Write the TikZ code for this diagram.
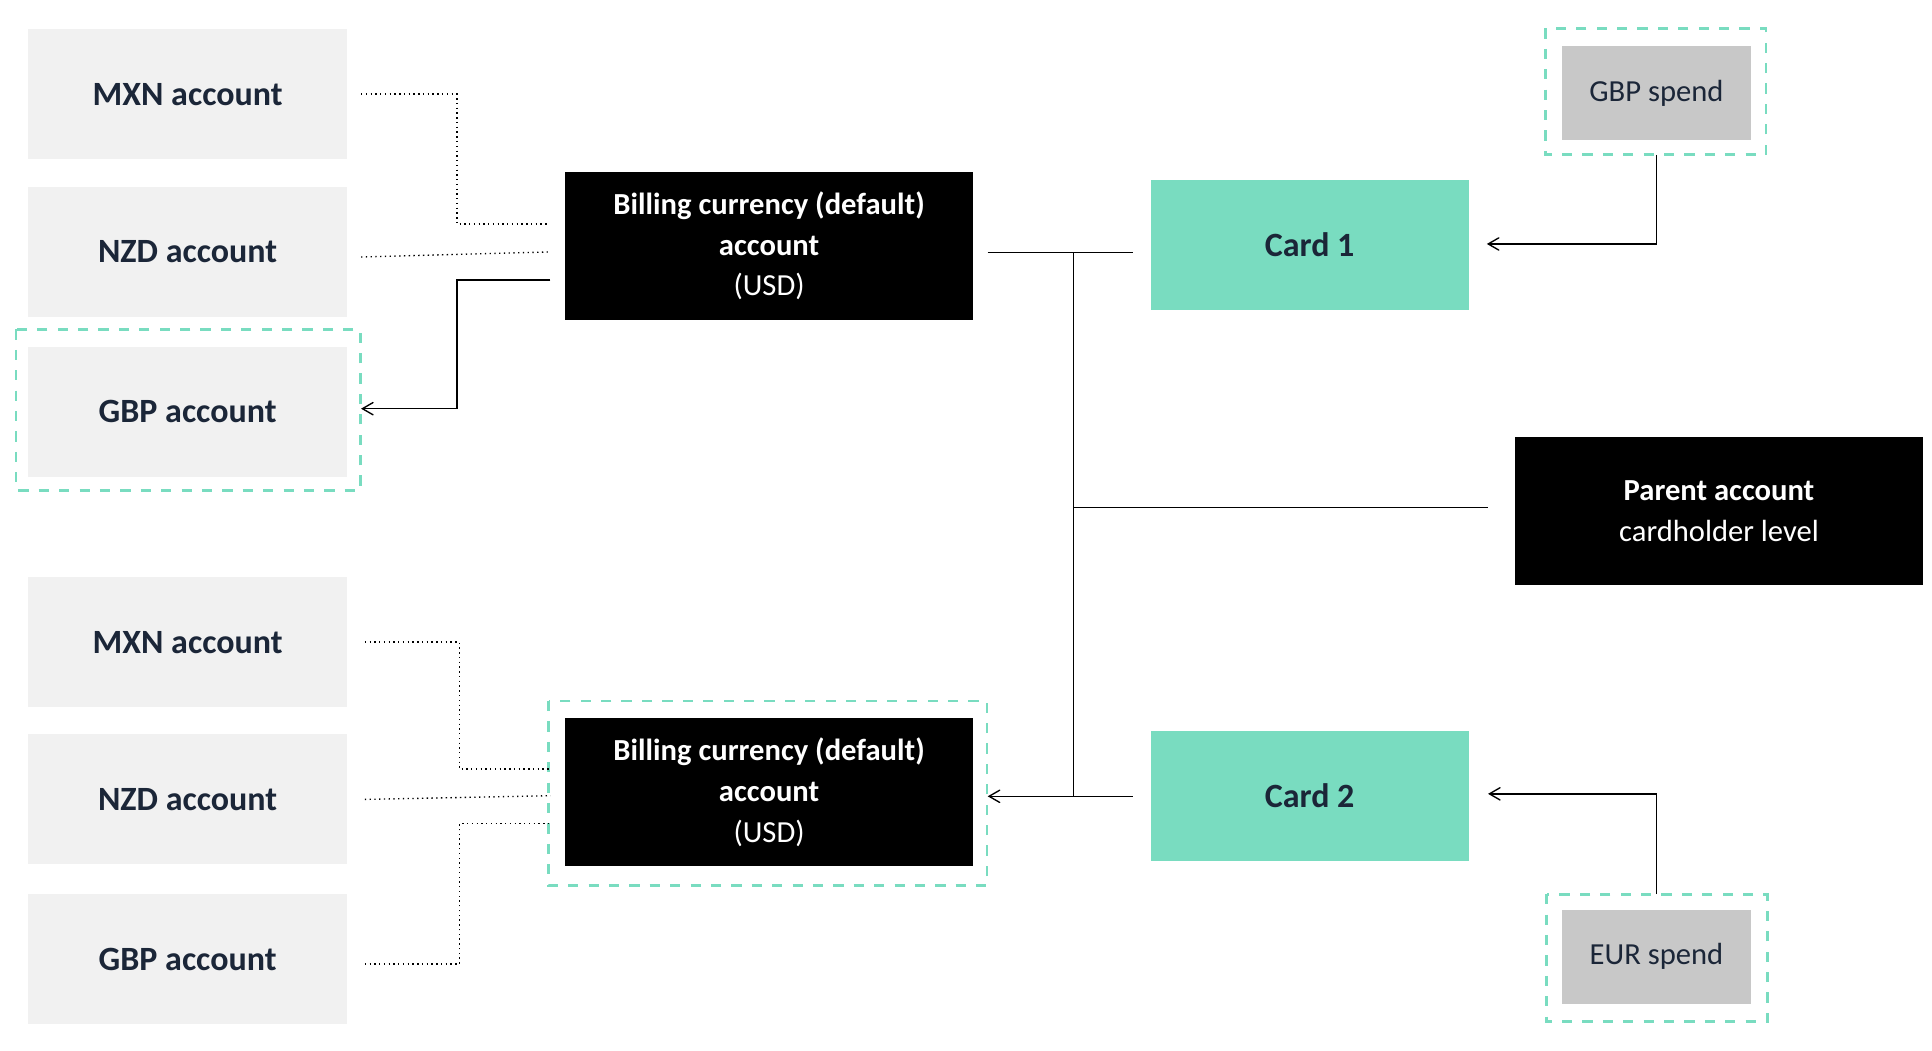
\documentclass[tikz,border=0pt]{standalone}
\usepackage{fontspec}
\setmainfont{Carlito}
\usetikzlibrary{arrows,positioning,calc}
\definecolor{accgray}{HTML}{F1F1F1}
\definecolor{cardgreen}{HTML}{79DCC0}
\definecolor{spendgray}{HTML}{C8C8C8}
\definecolor{txtdark}{HTML}{1B2638}
\tikzstyle{acc} = [fill=accgray, text=txtdark, font=\bfseries, minimum width=257*0.0128cm, minimum height=105*0.0128cm]
\tikzstyle{bill} = [fill=black, text=white, minimum width=330*0.0128cm, minimum height=119*0.0128cm, align=center]
\tikzstyle{card} = [fill=cardgreen, text=txtdark, font=\bfseries, minimum width=257*0.0128cm, minimum height=105*0.0128cm]
\tikzstyle{spend} = [fill=spendgray, text=txtdark, minimum width=153*0.0128cm, minimum height=76*0.0128cm]
\tikzstyle{frame} = [draw=cardgreen, dashed, thick]
\tikzstyle{dot} = [densely dotted, thin]
\tikzstyle{arrow} = [thin,->,>=angle 60]

\begin{document}
\begin{tikzpicture}[x=0.0128cm, y=-0.0128cm, every node/.style={inner sep=0pt, font=\fontsize{9}{12}\selectfont}]
    \useasboundingbox (0,0) rectangle (1560,848);

        % Frames
        \draw[frame] (13,266) rectangle (291,396);
        \draw[frame] (443,566) rectangle (797,715);
        \draw[frame] (1248,23) rectangle (1426,125);
        \draw[frame] (1249,722) rectangle (1427,825);

        % Accounts, upper group
        \node[acc] (MXN1) at (151.5,76) {MXN account};
        \node[acc] (NZD1) at (151.5,203.5) {NZD account};
        \node[acc] (GBP1) at (151.5,332.5) {GBP account};

        % Accounts, lower group
        \node[acc] (MXN2) at (151.5,518.5) {MXN account};
        \node[acc] (NZD2) at (151.5,645.5) {NZD account};
        \node[acc] (GBP2) at (151.5,774.5) {GBP account};

        % Billing accounts
        \node[bill] (Bill1) at (621,198.5) {\textbf{Billing currency (default)}\\\textbf{account}\\(USD)};
        \node[bill] (Bill2) at (621,639.5) {\textbf{Billing currency (default)}\\\textbf{account}\\(USD)};

        % Cards
        \node[card] (Card1) at (1057.5,197.5) {Card 1};
        \node[card] (Card2) at (1057.5,642.5) {Card 2};

        % Parent
        \node[bill] (Parent) at (1388,412.5) {\textbf{Parent account}\\cardholder level};

        % Spend
        \node[spend] (GBPs) at (1337.5,75) {GBP spend};
        \node[spend] (EURs) at (1337.5,772.5) {EUR spend};

        \coordinate (J1) at (867,204);
        \coordinate (J2) at (867,643);

        % Upper group connectors
        \draw[dot] ([xshift=11*0.0128cm]MXN1.east) -| (369,181) -- ([xshift=-13*0.0128cm]Bill1.west |- 0,181);
        \draw[dot] ([xshift=11*0.0128cm, yshift=-4*0.0128cm]NZD1.east) -- ([xshift=-13*0.0128cm, yshift=-5*0.0128cm]Bill1.west);
        \draw[arrow] ([xshift=-11*0.0128cm]Bill1.west |- 0,226) -| (369,330) -- ([xshift=11*0.0128cm]GBP1.east |- 0,330);

        % Lower group connectors
        \draw[dot] ([xshift=14*0.0128cm]MXN2.east) -| (371,621) -- ([xshift=-11*0.0128cm]Bill2.west |- 0,621);
        \draw[dot] ([xshift=14*0.0128cm]NZD2.east) -- ([xshift=-11*0.0128cm, yshift=-3*0.0128cm]Bill2.west);
        \draw[dot] ([xshift=14*0.0128cm, yshift=-4*0.0128cm]GBP2.east) -| (371,665) -- ([xshift=-11*0.0128cm]Bill2.west |- 0,665);

        % Trunk
        \draw[thin] ([xshift=11*0.0128cm]Bill1.east |- J1) -- ([xshift=-14*0.0128cm]Card1.west |- J1);
        \draw[thin] (J1) -- (J2);
        \draw[thin] (867,410) -- ([xshift=-21*0.0128cm]Parent.west |- 0,410);
        \draw[arrow] ([xshift=-14*0.0128cm]Card2.west |- J2) -- ([xshift=11*0.0128cm]Bill2.east |- J2);

        % Spend connectors
        \draw[arrow] (GBPs.south |- 0,125) |- ([xshift=14*0.0128cm]Card1.east |- 0,197);
        \draw[arrow] (EURs.south |- 0,722) |- ([xshift=15*0.0128cm]Card2.east |- 0,641);

    \end{tikzpicture}
\end{document}
